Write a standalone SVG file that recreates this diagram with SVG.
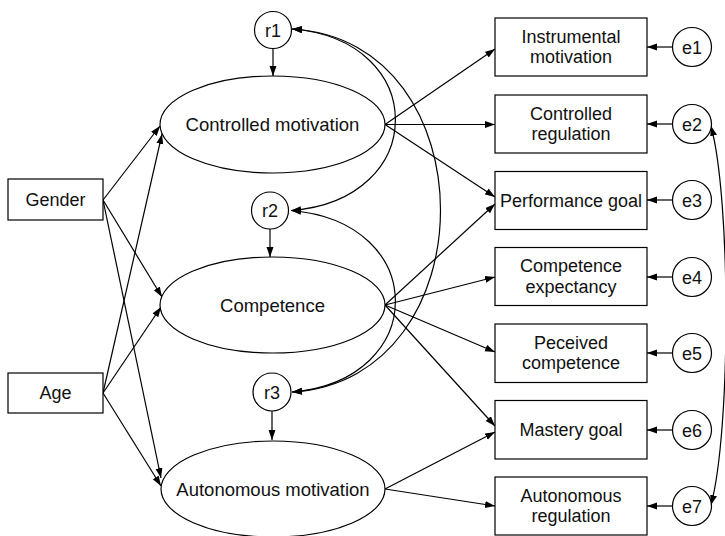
<svg xmlns="http://www.w3.org/2000/svg" width="725" height="536" viewBox="0 0 725 536">
  <defs>
    <marker id="arrow" markerUnits="userSpaceOnUse" markerWidth="11" markerHeight="8" refX="10" refY="3.5" orient="auto-start-reverse">
      <path d="M0,0 L10,3.5 L0,7 z" fill="#000"/>
    </marker>
  </defs>
  <style>
    .box { fill: #fff; stroke: #000; stroke-width: 1.2; }
    .lat { fill: #fff; stroke: #000; stroke-width: 1.2; }
    .lbl { font-family: "Liberation Sans", Arial, sans-serif; font-size: 18px; fill: #111; text-anchor: middle; }
    .big { font-size: 18.5px; }
    .edge { fill: none; stroke: #000; stroke-width: 1.2; marker-end: url(#arrow); }
    .cov { fill: none; stroke: #000; stroke-width: 1.2; marker-start: url(#arrow); marker-end: url(#arrow); }
  </style>

  <!-- connectors -->
  <g id="connectors">
    <!-- covariances among disturbances -->
    <path class="cov" d="M292,29 C430,40 430,200 291,210.5"/>
    <path class="cov" d="M292,29 C490,40 490,380 292,392"/>
    <path class="cov" d="M291,210.5 C430,222 430,380 292,392"/>
    <path class="cov" d="M711,126 C731,200 731,430 711,505"/>
    <!-- disturbances to latent factors -->
    <line class="edge" x1="273" y1="48.5" x2="273" y2="76"/>
    <line class="edge" x1="270" y1="229" x2="270" y2="257"/>
    <line class="edge" x1="272" y1="411" x2="272" y2="440"/>
    <!-- covariates to latent factors -->
    <line class="edge" x1="103" y1="200" x2="160" y2="126"/>
    <line class="edge" x1="103" y1="200" x2="162" y2="297"/>
    <line class="edge" x1="103" y1="200" x2="161" y2="478"/>
    <line class="edge" x1="103" y1="393" x2="162" y2="134"/>
    <line class="edge" x1="103" y1="393" x2="161" y2="307"/>
    <line class="edge" x1="103" y1="393" x2="161" y2="486"/>
    <!-- factor loadings -->
    <line class="edge" x1="385" y1="124.5" x2="495" y2="49"/>
    <line class="edge" x1="385" y1="124.5" x2="495" y2="124.5"/>
    <line class="edge" x1="385" y1="124.5" x2="495" y2="197"/>
    <line class="edge" x1="385" y1="305" x2="495" y2="204"/>
    <line class="edge" x1="385" y1="305" x2="495" y2="277"/>
    <line class="edge" x1="385" y1="305" x2="495" y2="352"/>
    <line class="edge" x1="385" y1="305" x2="495" y2="426"/>
    <line class="edge" x1="385" y1="489" x2="495" y2="432"/>
    <line class="edge" x1="385" y1="489" x2="495" y2="506"/>
    <!-- measurement errors -->
    <line class="edge" x1="672.5" y1="47" x2="647" y2="47"/>
    <line class="edge" x1="672.5" y1="124" x2="647" y2="124"/>
    <line class="edge" x1="672.5" y1="200" x2="647" y2="200"/>
    <line class="edge" x1="672.5" y1="277" x2="647" y2="277"/>
    <line class="edge" x1="672.5" y1="353" x2="647" y2="353"/>
    <line class="edge" x1="672.5" y1="430" x2="647" y2="430"/>
    <line class="edge" x1="672.5" y1="506" x2="647" y2="506"/>
  </g>

  <!-- covariates -->
  <g id="gender"><rect class="box" x="8" y="179" width="95" height="41"/><text class="lbl" x="55.5" y="206">Gender</text></g>
  <g id="age"><rect class="box" x="8" y="373" width="95" height="40"/><text class="lbl" x="55.5" y="399">Age</text></g>

  <!-- latent factors -->
  <g id="controlled-motivation"><ellipse class="lat" cx="272.5" cy="124.5" rx="112.5" ry="48.5"/><text class="lbl big" x="272.5" y="131">Controlled motivation</text></g>
  <g id="competence"><ellipse class="lat" cx="272.5" cy="305" rx="112.5" ry="48"/><text class="lbl big" x="272.5" y="311.5">Competence</text></g>
  <g id="autonomous-motivation"><ellipse class="lat" cx="273" cy="489" rx="112" ry="48"/><text class="lbl big" x="273" y="495.5">Autonomous motivation</text></g>

  <!-- disturbances -->
  <g id="r1"><circle class="lat" cx="273" cy="30" r="18.5"/><text class="lbl" x="273" y="36.5">r1</text></g>
  <g id="r2"><circle class="lat" cx="270" cy="210.5" r="18.5"/><text class="lbl" x="270" y="217">r2</text></g>
  <g id="r3"><circle class="lat" cx="272" cy="392" r="19"/><text class="lbl" x="272" y="398.5">r3</text></g>

  <!-- indicators -->
  <g id="instrumental-motivation"><rect class="box" x="495" y="18" width="152" height="58"/><text class="lbl" x="571" y="42.5">Instrumental</text><text class="lbl" x="571" y="63">motivation</text></g>
  <g id="controlled-regulation"><rect class="box" x="495" y="95" width="152" height="58"/><text class="lbl" x="571" y="119.5">Controlled</text><text class="lbl" x="571" y="140">regulation</text></g>
  <g id="performance-goal"><rect class="box" x="495" y="171.5" width="152" height="58"/><text class="lbl" x="571" y="206.5">Performance goal</text></g>
  <g id="competence-expectancy"><rect class="box" x="495" y="247.5" width="152" height="58"/><text class="lbl" x="571" y="272">Competence</text><text class="lbl" x="571" y="292.5">expectancy</text></g>
  <g id="perceived-competence"><rect class="box" x="495" y="324" width="152" height="58.5"/><text class="lbl" x="571" y="348.5">Peceived</text><text class="lbl" x="571" y="369">competence</text></g>
  <g id="mastery-goal"><rect class="box" x="495" y="400.5" width="152" height="58.5"/><text class="lbl" x="571" y="436">Mastery goal</text></g>
  <g id="autonomous-regulation"><rect class="box" x="495" y="477" width="152" height="58"/><text class="lbl" x="571" y="501.5">Autonomous</text><text class="lbl" x="571" y="522">regulation</text></g>

  <!-- measurement errors -->
  <g id="e1"><circle class="lat" cx="692" cy="47" r="19.5"/><text class="lbl" x="692" y="53.5">e1</text></g>
  <g id="e2"><circle class="lat" cx="692" cy="124" r="19.5"/><text class="lbl" x="692" y="130.5">e2</text></g>
  <g id="e3"><circle class="lat" cx="692" cy="200" r="19.5"/><text class="lbl" x="692" y="206.5">e3</text></g>
  <g id="e4"><circle class="lat" cx="692" cy="277" r="19.5"/><text class="lbl" x="692" y="283.5">e4</text></g>
  <g id="e5"><circle class="lat" cx="692" cy="353" r="19.5"/><text class="lbl" x="692" y="359.5">e5</text></g>
  <g id="e6"><circle class="lat" cx="692" cy="430" r="19.5"/><text class="lbl" x="692" y="436.5">e6</text></g>
  <g id="e7"><circle class="lat" cx="692" cy="506" r="19.5"/><text class="lbl" x="692" y="512.5">e7</text></g>
</svg>
